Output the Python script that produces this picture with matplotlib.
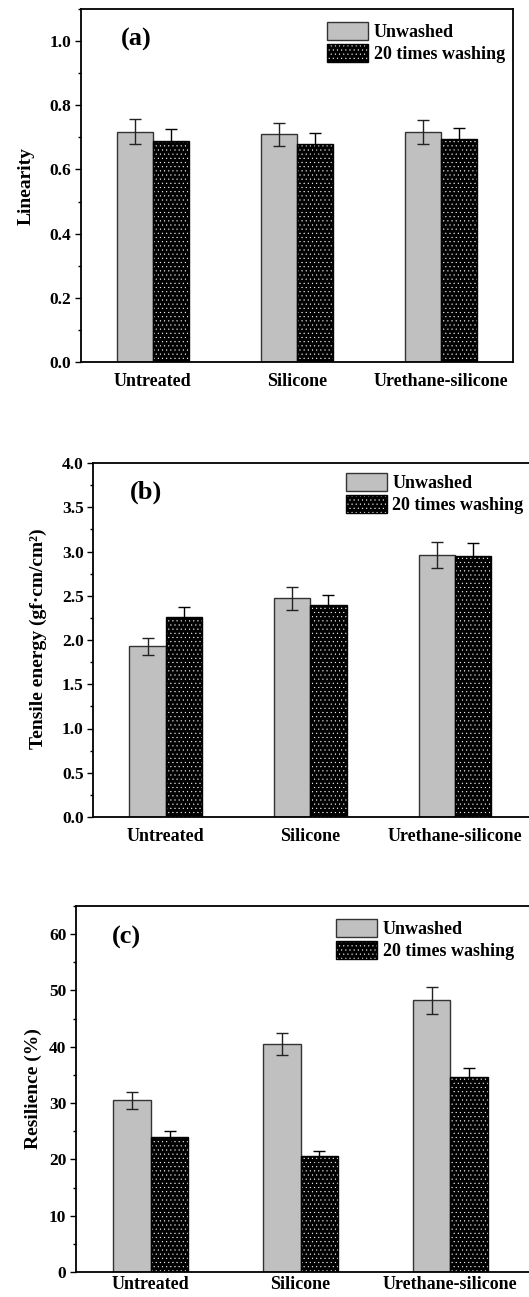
import matplotlib
matplotlib.use("Agg")
import matplotlib.pyplot as plt
import numpy as np
from matplotlib.patches import Patch
from matplotlib.legend_handler import HandlerTuple
from matplotlib.ticker import MultipleLocator

# data
categories = ["Untreated", "Silicone", "Urethane-silicone"]
series_names = ["Unwashed", "20 times washing"]

linearity_unwashed = [0.718, 0.709, 0.716]
linearity_unwashed_err = [0.038, 0.037, 0.037]
linearity_washed = [0.690, 0.680, 0.694]
linearity_washed_err = [0.035, 0.035, 0.035]

tensile_unwashed = [1.93, 2.47, 2.96]
tensile_unwashed_err = [0.095, 0.13, 0.147]
tensile_washed = [2.26, 2.395, 2.953]
tensile_washed_err = [0.11, 0.117, 0.143]

resilience_unwashed = [30.47, 40.53, 48.22]
resilience_unwashed_err = [1.54, 1.95, 2.43]
resilience_washed = [24.02, 20.65, 34.56]
resilience_washed_err = [1.07, 0.9, 1.6]

plt.rcParams['font.family'] = ['Liberation Serif', 'DejaVu Serif']
plt.rcParams['font.weight'] = 'bold'
plt.rcParams['hatch.linewidth'] = 0.3

W, H = 529, 1297
GRAY = '#c0c0c0'
HATCH = '....'

fig = plt.figure(figsize=(W / 100, H / 100), dpi=100)


def add_axes_px(left, top, right, bottom):
    return fig.add_axes([left / W, 1 - bottom / H, (right - left) / W, (bottom - top) / H])


def draw_panel(ax, unw, unw_err, wsh, wsh_err, ylim, major, minor, xlim, tag, tag_xy, leg_xy, xpad=8):
    x = np.arange(1, len(categories) + 1)
    w = 0.25
    ax.bar(x - w / 2, unw, w, color=GRAY, edgecolor='#333333', linewidth=1.0, zorder=2)
    ax.errorbar(x - w / 2, unw, yerr=unw_err, fmt='none', ecolor='#222222',
                elinewidth=1.0, capsize=4, capthick=1.0, zorder=3)
    ax.bar(x + w / 2, wsh, w, color='black', edgecolor='white', hatch=HATCH, linewidth=0, zorder=2)
    ax.bar(x + w / 2, wsh, w, fill=False, edgecolor='black', linewidth=1.0, zorder=2)
    ax.errorbar(x + w / 2, wsh, yerr=wsh_err, fmt='none', ecolor='black',
                elinewidth=1.0, capsize=4, capthick=1.0, zorder=3)

    ax.set_xlim(*xlim)
    ax.set_ylim(*ylim)
    ax.set_xticks(x)
    ax.set_xticklabels(categories, fontsize=13, fontweight='bold')
    ax.yaxis.set_major_locator(MultipleLocator(major))
    ax.yaxis.set_minor_locator(MultipleLocator(minor))
    ax.tick_params(axis='x', length=0, pad=xpad)
    ax.tick_params(axis='y', which='major', direction='out', length=4, width=1, labelsize=12.5, pad=3)
    ax.tick_params(axis='y', which='minor', direction='out', length=2.5, width=1)
    for lab in ax.get_yticklabels():
        lab.set_fontweight('bold')
    for s in ax.spines.values():
        s.set_linewidth(1.3)

    ax.text(tag_xy[0], tag_xy[1], tag, transform=ax.transAxes, fontsize=19,
            fontweight='bold', ha='left', va='center')

    h_unw = Patch(facecolor=GRAY, edgecolor='#333333', linewidth=1.0)
    h_hatch = Patch(facecolor='black', edgecolor='white', hatch=HATCH, linewidth=0)
    h_edge = Patch(fill=False, edgecolor='black', linewidth=1.0)
    ax.legend([h_unw, (h_hatch, h_edge)], series_names,
              handler_map={tuple: HandlerTuple(ndivide=1, pad=0)},
              loc='upper left', bbox_to_anchor=leg_xy, frameon=False,
              borderpad=0, borderaxespad=0, handlelength=2.3, handleheight=1.15,
              handletextpad=0.3, labelspacing=0.15,
              prop={'family': 'Liberation Serif', 'weight': 'bold', 'size': 13})


# (a) linearity
ax1 = add_axes_px(80.7, 9, 513.3, 362)
draw_panel(ax1, linearity_unwashed, linearity_unwashed_err, linearity_washed, linearity_washed_err,
           (0, 1.1), 0.2, 0.1, (0.5, 3.5), '(a)', (0.093, 0.915), (0.569, 0.962))
fig.text(26 / W, 1 - 186 / H, 'Linearity', rotation=90, ha='center', va='center',
         fontsize=14, fontweight='bold')

# (b) tensile energy
ax2 = add_axes_px(93.3, 463, 535, 817)
draw_panel(ax2, tensile_unwashed, tensile_unwashed_err, tensile_washed, tensile_washed_err,
           (0, 4.0), 0.5, 0.25, (0.5, 0.5 + (535 - 93.3) / 144.7), '(b)', (0.083, 0.917), (0.571, 0.971))
fig.text(38 / W, 1 - 639 / H, 'Tensile energy (gf·cm/cm²)', rotation=90, ha='center', va='center',
         fontsize=14, fontweight='bold')

# (c) resilience
ax3 = add_axes_px(76, 906, 535, 1272)
draw_panel(ax3, resilience_unwashed, resilience_unwashed_err, resilience_washed, resilience_washed_err,
           (0, 65), 10, 5, (0.5, 0.5 + (535 - 76) / 149.7), '(c)', (0.078, 0.914), (0.566, 0.964),
           xpad=3)
fig.text(33 / W, 1 - 1089 / H, 'Resilience (%)', rotation=90, ha='center', va='center',
         fontsize=14, fontweight='bold')

fig.savefig('out.png', dpi=100)
